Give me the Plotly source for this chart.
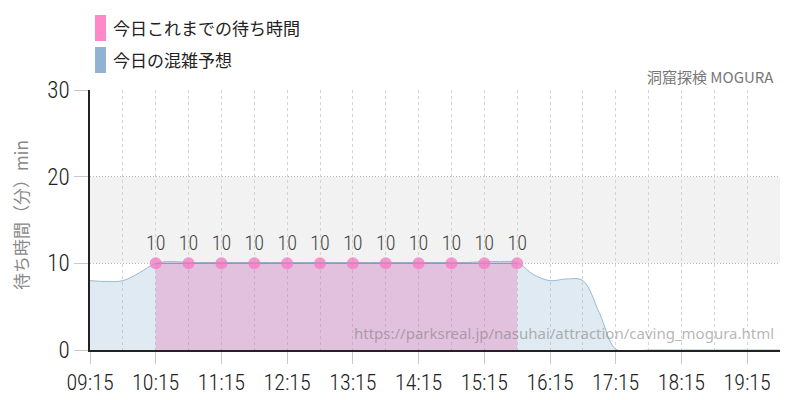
import plotly.graph_objects as go

DAY = "2024-01-01 "

# 今日これまでの待ち時間 (actual)
actual_times = ["10:15", "10:45", "11:15", "11:45", "12:15", "12:45",
                "13:15", "13:45", "14:15", "14:45", "15:15", "15:45"]
actual_waits = [10, 10, 10, 10, 10, 10, 10, 10, 10, 10, 10, 10]

# 今日の混雑予想 (forecast)
forecast_times = ["09:15", "09:30", "09:45", "10:00", "10:15", "10:30", "10:45",
                  "11:00", "11:15", "11:30", "11:45", "12:00", "12:15", "12:30",
                  "12:45", "13:00", "13:15", "13:30", "13:45", "14:00", "14:15",
                  "14:30", "14:45", "15:00", "15:15", "15:30", "15:45", "16:00",
                  "16:15", "16:30", "16:45", "17:00", "17:15", "17:30", "17:45",
                  "18:00", "18:15", "18:30", "18:45", "19:00", "19:15", "19:30",
                  "19:45"]
forecast_waits = [8.0, 7.9, 8.0, 8.9, 10.0, 10.2, 10.1,
                  10.1, 10.1, 10.1, 10.1, 10.1, 10.1, 10.1,
                  10.1, 10.1, 10.1, 10.1, 10.1, 10.1, 10.1,
                  10.1, 10.1, 10.1, 10.2, 10.2, 10.1, 8.7,
                  8.0, 8.2, 8.0, 4.3, 0.1, -0.1, 0.0,
                  0.0, 0.0, 0.0, 0.0, 0.0, 0.0, 0.0,
                  0.0]

x_ticks = ["09:15", "10:15", "11:15", "12:15", "13:15", "14:15",
           "15:15", "16:15", "17:15", "18:15", "19:15"]

NARROW = "Roboto Condensed Light, Roboto Condensed, sans-serif"
JP = "Noto Sans CJK JP, sans-serif"


def py(pixel_y):
    # page pixel -> paper y (plot area is y 90..350 on the page)
    return (350 - pixel_y) / 260


def px(pixel_x):
    # page pixel -> paper x (plot area is x 90..780 on the page)
    return (pixel_x - 90) / 690


fig = go.Figure()

fig.add_trace(go.Scatter(
    x=[DAY + t for t in forecast_times], y=forecast_waits,
    mode="lines", line=dict(color="rgba(143,179,208,0.9)", width=1, shape="spline"),
    fill="tozeroy", fillcolor="rgba(143,179,208,0.28)",
    name="今日の混雑予想", hoverinfo="skip",
))

fig.add_trace(go.Scatter(
    x=[DAY + t for t in actual_times], y=actual_waits,
    mode="lines+markers+text",
    line=dict(color="rgba(170,100,180,0.8)", width=1),
    marker=dict(color="rgba(245,120,195,0.75)", size=12),
    fill="tozeroy", fillcolor="rgba(231,100,175,0.3)",
    text=[str(v) for v in actual_waits], textposition="top center",
    textfont=dict(family=NARROW, size=20, color="#444"),
    name="今日これまでの待ち時間",
))

# 10-20 band
fig.add_shape(type="rect", xref="paper", yref="y", x0=0, x1=1, y0=10, y1=20,
              fillcolor="#f2f2f2", line_width=0, layer="below")

# legend built by hand
for i, (label, col) in enumerate([("今日これまでの待ち時間", "#ff88c8"),
                                  ("今日の混雑予想", "#8fb3d0")]):
    top = 15 + 32 * i
    fig.add_shape(type="rect", xref="paper", yref="paper",
                  x0=px(95), x1=px(106), y0=py(top + 26), y1=py(top),
                  fillcolor=col, line_width=0)
    fig.add_annotation(xref="paper", yref="paper", x=px(111), y=py(top + 13),
                       text=label, showarrow=False, xanchor="left", yanchor="middle",
                       font=dict(family=JP, size=17, color="#222"))

fig.add_annotation(xref="paper", yref="paper", x=px(776), y=py(77),
                   text="洞窟探検 MOGURA", showarrow=False, xanchor="right", yanchor="middle",
                   font=dict(family=JP, size=15, color="#777"))

fig.add_annotation(xref="paper", yref="paper", x=px(776), y=py(333),
                   text="https://parksreal.jp/nasuhai/attraction/caving_mogura.html",
                   showarrow=False, xanchor="right", yanchor="middle",
                   font=dict(family="Noto Sans, sans-serif", size=15, color="rgba(120,120,120,0.55)"))

fig.add_annotation(xref="paper", yref="paper", x=px(20), y=py(215),
                   text="待ち時間（分）min", textangle=-90, showarrow=False,
                   xanchor="center", yanchor="middle",
                   font=dict(family=JP, size=17, color="#888"))

# page has an 8px body margin, so the figure sits at (8, 8)
fig.update_layout(
    width=792, height=392,
    margin=dict(l=82, r=20, t=82, b=50, autoexpand=False),
    paper_bgcolor="white", plot_bgcolor="white",
    showlegend=False,
    xaxis=dict(
        type="date", automargin=False,
        range=[DAY + "09:15", DAY + "19:45"],
        tickvals=[DAY + t for t in x_ticks], ticktext=x_ticks,
        tickfont=dict(family=NARROW, size=22, color="#222"),
        ticks="outside", ticklen=12, tickcolor="#c8c8c8",
        showgrid=True, gridcolor="#d4d4d4", griddash="3px,3px",
        minor=dict(tick0=DAY + "09:45", dtick=3600000, showgrid=True,
                   gridcolor="#d4d4d4", griddash="3px,3px"),
        showline=True, linecolor="#222", linewidth=1.5,
        fixedrange=True,
    ),
    yaxis=dict(
        range=[0, 30], dtick=10, automargin=False,
        tickfont=dict(family=NARROW, size=23, color="#222"),
        ticks="outside", ticklen=14, tickcolor="#c8c8c8",
        showgrid=True, gridcolor="#bbb", griddash="1px,2px",
        showline=True, linecolor="#222", linewidth=1.5,
        zeroline=False,
    ),
)

fig.write_html("out.html")
